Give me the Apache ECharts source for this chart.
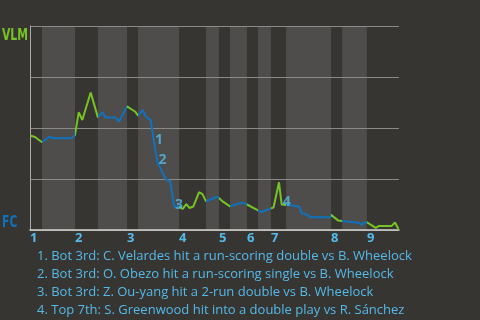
<!DOCTYPE html>
<html><head><meta charset="utf-8">
<script src="https://cdn.jsdelivr.net/npm/echarts@6/dist/echarts.min.js"></script>
<style>html,body{margin:0;padding:0;background:#373531;}#c{width:480px;height:320px;}</style>
</head><body><div id="c"></div>
<script>
// half-inning start positions on the game-progress axis (0..100); even = top (VLM bats), odd = bottom (FC bats)
const halfInningStarts = [0, 3.25, 12.2, 18.4, 26.3, 29.3, 40.4, 47.7, 51.2, 54.2, 58.8, 61.8, 65.3, 69.4, 81.6, 84.6, 91.3];
const gameEnd = 100;
const inningLabels = ['1', '2', '3', '4', '5', '6', '7', '8', '9'];
// game progress of each plate-appearance event
const progress = [0, 1.36, 3.25, 5.28, 6.5, 11.25, 12.2, 13.2, 14.17, 16.45, 18.4, 19.6, 20.46, 23.17, 24.12,
  26.3, 27.5, 28.46, 29.3, 30.54, 31.44, 32.71, 33.6, 34.55, 35.1, 36.18, 36.99, 37.94, 38.48, 39.02,
  40.4, 41.38, 42.36, 43.22, 44.25, 45.8, 46.75, 47.7, 49.24, 50.81, 51.2, 52.3, 54.2, 56.0, 57.37,
  58.8, 61.8, 62.74, 65.3, 66.0, 67.48, 68.2, 69.4, 71.36, 72.98, 73.63, 74.8, 76.07, 81.3, 81.6,
  83.55, 84.6, 84.9, 89.02, 89.9, 90.38, 91.3, 92.4, 93.69, 94.58, 98.02, 98.92, 100];
// VLM win probability (%)
const vlmWinPct = [46.3, 45.6, 43.0, 45.7, 45.0, 45.0, 46.6, 57.7, 53.9, 67.4, 55.2, 57.7, 55.2, 55.2, 53.1,
  60.6, 59.2, 58.1, 56.1, 58.8, 55.5, 53.9, 43.1, 33.3, 31.1, 27.2, 24.5, 24.0, 18.6, 11.5,
  11.5, 10.3, 12.7, 10.8, 11.5, 18.5, 17.6, 14.0, 15.2, 16.3, 15.9, 13.9, 11.6, 12.6, 13.4,
  12.5, 9.6, 8.8, 10.6, 11.0, 23.4, 12.5, 12.3, 12.0, 11.4, 8.2, 7.8, 6.2, 6.2, 7.4,
  4.6, 4.4, 3.6, 3.6, 2.5, 3.6, 3.8, 2.5, 1.0, 2.0, 2.0, 3.7, 0];
const eventIndex = [22, 23, 29, 51];
const eventLabels = ['1', '2', '3', '4'];
const eventNotes = [
  '1. Bot 3rd: C. Velardes hit a run-scoring double vs B. Wheelock',
  '2. Bot 3rd: O. Obezo hit a run-scoring single vs B. Wheelock',
  '3. Bot 3rd: Z. Ou-yang hit a 2-run double vs B. Wheelock',
  '4. Top 7th: S. Greenwood hit into a double play vs R. Sánchez'
];
const teamTop = 'VLM', teamBottom = 'FC';

const GREEN = '#77c224', BLUE = '#1071bd', LABEL = '#55b9ea';
const FONT = '"Open Sans", "Noto Sans", sans-serif';
const TEAMFONT = 'bold 15px "DejaVu Sans Condensed", "DejaVu Sans", sans-serif';

const lineData = progress.map((x, i) => [x, vlmWinPct[i]]);
const bounds = halfInningStarts.concat([gameEnd]);
const pieces = [];
const bands = [];
for (let i = 0; i < halfInningStarts.length; i++) {
  const p = { gte: bounds[i], color: i % 2 === 0 ? GREEN : BLUE };
  if (i === halfInningStarts.length - 1) p.lte = bounds[i + 1]; else p.lt = bounds[i + 1];
  pieces.push(p);
  if (i % 2 === 1) bands.push([bounds[i], bounds[i + 1]]);
}
const inningStarts = halfInningStarts.filter((_, i) => i % 2 === 0);
const eventData = eventIndex.map((idx, k) => ({ value: [progress[idx], vlmWinPct[idx]], name: eventLabels[k] }));

const chart = echarts.init(document.getElementById('c'));
chart.setOption({
  backgroundColor: '#373531',
  animation: false,
  grid: { left: 30, right: 81, top: 26, bottom: 90 },
  title: {
    text: eventNotes.join('\n'), left: 32, top: 242,
    textStyle: { color: LABEL, fontSize: 13, fontWeight: 'normal', lineHeight: 18, fontFamily: FONT }
  },
  graphic: [
    { type: 'text', x: 2, y: 29, scaleX: 0.8, style: { text: teamTop, fill: GREEN, font: TEAMFONT, textVerticalAlign: 'top' } },
    { type: 'text', x: 2, y: 216, scaleX: 0.8, style: { text: teamBottom, fill: BLUE, font: TEAMFONT, textVerticalAlign: 'top' } }
  ],
  visualMap: { type: 'piecewise', show: false, dimension: 0, seriesIndex: 1, pieces: pieces },
  xAxis: {
    type: 'value', min: 0, max: gameEnd, z: 1,
    splitLine: { show: false }, axisTick: { show: false },
    axisLine: { lineStyle: { color: '#d2d2d0', width: 1.5 } },
    axisLabel: {
      customValues: inningStarts, align: 'left', margin: 2,
      formatter: v => inningLabels[inningStarts.indexOf(v)],
      color: LABEL, fontSize: 13, fontWeight: 'bold', fontFamily: FONT
    }
  },
  yAxis: {
    type: 'value', min: 0, max: 100, interval: 25, z: 1,
    axisLabel: { show: false }, axisTick: { show: false },
    axisLine: { show: true, lineStyle: { color: '#aaa9a6', width: 1 } },
    splitLine: { lineStyle: { color: '#8b8a87', width: 1 } }
  },
  series: [
    {
      type: 'custom', z: 0, silent: true, data: bands, encode: { x: [0, 1] },
      renderItem: (params, api) => {
        const s = api.coord([api.value(0), 100]);
        const e = api.coord([api.value(1), 0]);
        return { type: 'rect', shape: { x: s[0], y: s[1], width: e[0] - s[0], height: e[1] - s[1] }, style: { fill: '#4e4d4b' } };
      }
    },
    {
      type: 'line', z: 3, data: lineData, showSymbol: false, lineStyle: { width: 2 }
    },
    {
      type: 'scatter', z: 4, data: eventData, symbolSize: 0, silent: true,
      label: { show: true, position: 'right', distance: 1, offset: [0, -2], formatter: p => p.name,
        color: LABEL, fontSize: 14, fontWeight: 'bold', fontFamily: FONT }
    }
  ]
});
</script></body></html>
